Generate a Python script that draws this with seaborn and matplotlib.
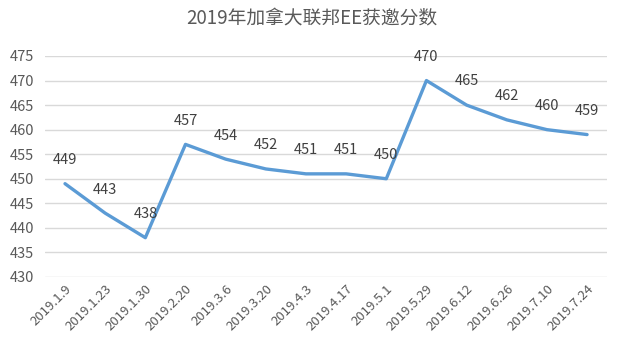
import matplotlib
matplotlib.use("Agg")
import matplotlib.pyplot as plt
import seaborn as sns
import pandas as pd

dates = ["2019.1.9", "2019.1.23", "2019.1.30", "2019.2.20", "2019.3.6", "2019.3.20",
         "2019.4.3", "2019.4.17", "2019.5.1", "2019.5.29", "2019.6.12", "2019.6.26",
         "2019.7.10", "2019.7.24"]
scores = [449, 443, 438, 457, 454, 452, 451, 451, 450, 470, 465, 462, 460, 459]
title = "2019年加拿大联邦EE获邀分数"

sns.set_theme(style="white")
plt.rcParams['font.family'] = ['Noto Sans CJK SC', 'DejaVu Sans']

df = pd.DataFrame({"date": dates, "score": scores})
df["idx"] = range(len(dates))

fig = plt.figure(figsize=(6.24, 3.58), dpi=100)
ax = fig.add_axes([0.072, 0.2263, 0.901, 0.6173])

sns.lineplot(data=df, x="idx", y="score", ax=ax, color="#5B9BD5", linewidth=2.4,
             solid_capstyle="round", solid_joinstyle="round")

for i, v in zip(df["idx"], df["score"]):
    ax.annotate(str(v), (i, v), xytext=(0, 17), textcoords="offset points",
                ha="center", va="center", fontsize=10.5, color="#404040")

ax.set_xlim(-0.5, len(dates) - 0.5)
ax.set_ylim(430, 475)
ax.set_yticks(range(430, 476, 5))
ax.set_xticks(range(len(dates)))
ax.set_xticklabels(dates, rotation=45, ha="right", rotation_mode="anchor",
                   fontsize=9.5, color="#595959")
ax.tick_params(axis="y", labelsize=10.5, labelcolor="#595959", length=0, pad=8)
ax.tick_params(axis="x", length=0, pad=4)
ax.grid(axis="y", color="#D9D9D9", linewidth=1)
ax.set_axisbelow(True)
for s in ax.spines.values():
    s.set_visible(False)
ax.set_xlabel("")
ax.set_ylabel("")
fig.text(0.5, 0.948, title, ha="center", va="center", fontsize=13.5, color="#595959")

fig.savefig("out.png", dpi=100)
